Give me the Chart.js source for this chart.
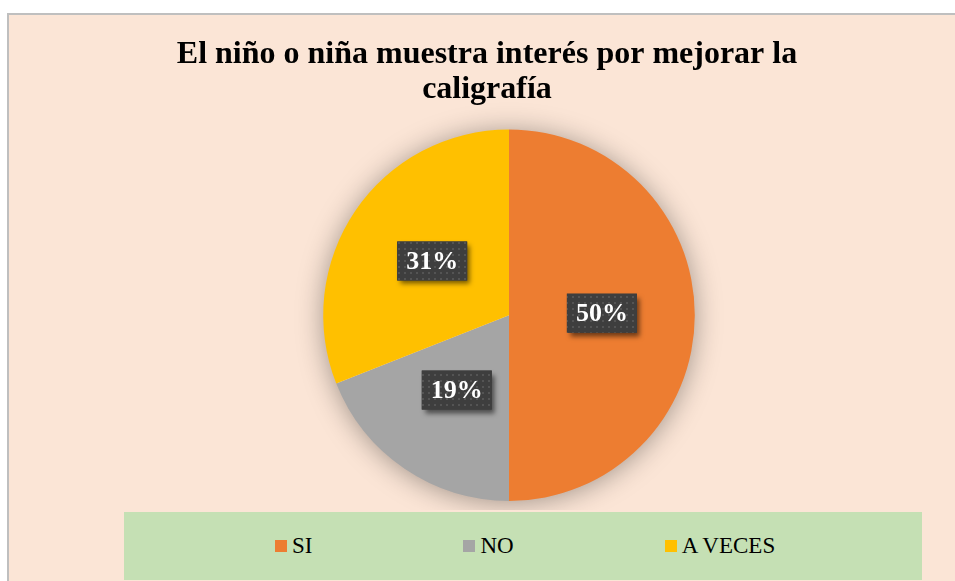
<!DOCTYPE html>
<html>
<head>
<meta charset="utf-8">
<script src="https://cdn.jsdelivr.net/npm/chart.js@4"></script>
<style>
    html, body {
        margin: 0;
        padding: 0;
        width: 955px;
        height: 581px;
        overflow: hidden;
        background: #ffffff;
    }
    #frame {
        position: absolute;
        left: 7px;
        top: 13px;
        width: 1000px;
        height: 620px;
        background: #FBE5D6;
        border-left: 2px solid #BFBFBF;
        border-top: 2px solid #BFBFBF;
    }
    #pie-chart {
        position: absolute;
        left: 0;
        top: 0;
    }
    #legend {
        position: absolute;
        left: 124px;
        top: 512px;
        width: 798px;
        height: 68px;
        background: #C5E0B4;
        display: flex;
        align-items: center;
        box-sizing: border-box;
        padding-left: 151px;
        gap: 151px;
        font-family: "Liberation Serif", "Times New Roman", serif;
        font-size: 23px;
        color: #000000;
    }
    .legend-item {
        display: flex;
        align-items: center;
        white-space: nowrap;
    }
    .legend-box {
        width: 12px;
        height: 12px;
        margin-right: 5px;
    }
</style>
</head>
<body>
<div id="frame"></div>
<canvas id="pie-chart" width="955" height="510"></canvas>
<div id="legend"></div>

<script>
// Chart data
const titleLines = ['El niño o niña muestra interés por mejorar la', 'caligrafía'];
const categories = ['SI', 'NO', 'A VECES'];
const percentValues = [50, 19, 31];
const sliceColors = ['#ED7D31', '#A5A5A5', '#FFC000'];

const serifFont = '"Liberation Serif", "Times New Roman", serif';

// Dotted dark fill used behind the data labels
function makeLabelPattern(ctx) {
    const tile = document.createElement('canvas');
    tile.width = 6;
    tile.height = 6;
    const t = tile.getContext('2d');
    t.fillStyle = '#3E3E3E';
    t.fillRect(0, 0, 6, 6);
    t.fillStyle = '#545454';
    t.fillRect(2, 2, 2, 2);
    return ctx.createPattern(tile, 'repeat');
}

// The title sits a little left of the pie centre in the original
const titleNudge = {
    id: 'titleNudge',
    afterLayout(chart) {
        chart.titleBlock.left -= 44;
    }
};

// Soft shadow behind the whole pie
const pieShadow = {
    id: 'pieShadow',
    beforeDatasetsDraw(chart) {
        const arc = chart.getDatasetMeta(0).data[0];
        if (!arc) return;
        const ctx = chart.ctx;
        ctx.save();
        ctx.shadowColor = 'rgba(0, 0, 0, 0.38)';
        ctx.shadowBlur = 28;
        ctx.shadowOffsetX = 0;
        ctx.shadowOffsetY = 2;
        ctx.fillStyle = '#FBE5D6';
        ctx.beginPath();
        ctx.arc(arc.x, arc.y, arc.outerRadius - 1, 0, Math.PI * 2);
        ctx.fill();
        ctx.restore();
    }
};

// Percent labels in dark boxes
const boxLabels = {
    id: 'boxLabels',
    afterDatasetsDraw(chart) {
        const ctx = chart.ctx;
        const meta = chart.getDatasetMeta(0);
        const pattern = makeLabelPattern(ctx);

        ctx.save();
        ctx.font = 'bold 26px ' + serifFont;
        ctx.textAlign = 'center';
        ctx.textBaseline = 'middle';

        meta.data.forEach(function(arc, i) {
            const pos = arc.tooltipPosition();
            const text = percentValues[i] + '%';
            const w = ctx.measureText(text).width + 18;
            const h = 39;
            const x = pos.x - w / 2;
            const y = pos.y - 2 - h / 2;

            // box with shadow
            ctx.save();
            ctx.shadowColor = 'rgba(0, 0, 0, 0.55)';
            ctx.shadowBlur = 5;
            ctx.shadowOffsetX = 3;
            ctx.shadowOffsetY = 4;
            ctx.fillStyle = '#3E3E3E';
            ctx.fillRect(x, y, w, h);
            ctx.restore();
            ctx.fillStyle = pattern;
            ctx.fillRect(x, y, w, h);

            ctx.fillStyle = '#FFFFFF';
            ctx.fillText(text, pos.x, pos.y - 1);
        });
        ctx.restore();
    }
};

// Build the legend
function buildLegend() {
    const legend = document.getElementById('legend');
    categories.forEach(function(name, i) {
        const item = document.createElement('div');
        item.className = 'legend-item';
        const box = document.createElement('span');
        box.className = 'legend-box';
        box.style.background = sliceColors[i];
        const label = document.createElement('span');
        label.textContent = name;
        item.appendChild(box);
        item.appendChild(label);
        legend.appendChild(item);
    });
}

const ctx = document.getElementById('pie-chart').getContext('2d');
new Chart(ctx, {
    type: 'pie',
    data: {
        labels: categories,
        datasets: [{
            data: percentValues,
            backgroundColor: sliceColors,
            borderWidth: 0,
            hoverOffset: 0
        }]
    },
    options: {
        responsive: false,
        animation: false,
        events: [],
        layout: {
            padding: { left: 63, right: 0, top: 0, bottom: 9 }
        },
        plugins: {
            legend: { display: false },
            tooltip: { enabled: false },
            title: {
                display: true,
                text: titleLines,
                color: '#000000',
                font: {
                    family: serifFont,
                    size: 32,
                    weight: 'bold',
                    lineHeight: 1.1
                },
                padding: { top: 37, bottom: 22 }
            }
        }
    },
    plugins: [titleNudge, pieShadow, boxLabels]
});

buildLegend();
</script>
</body>
</html>
